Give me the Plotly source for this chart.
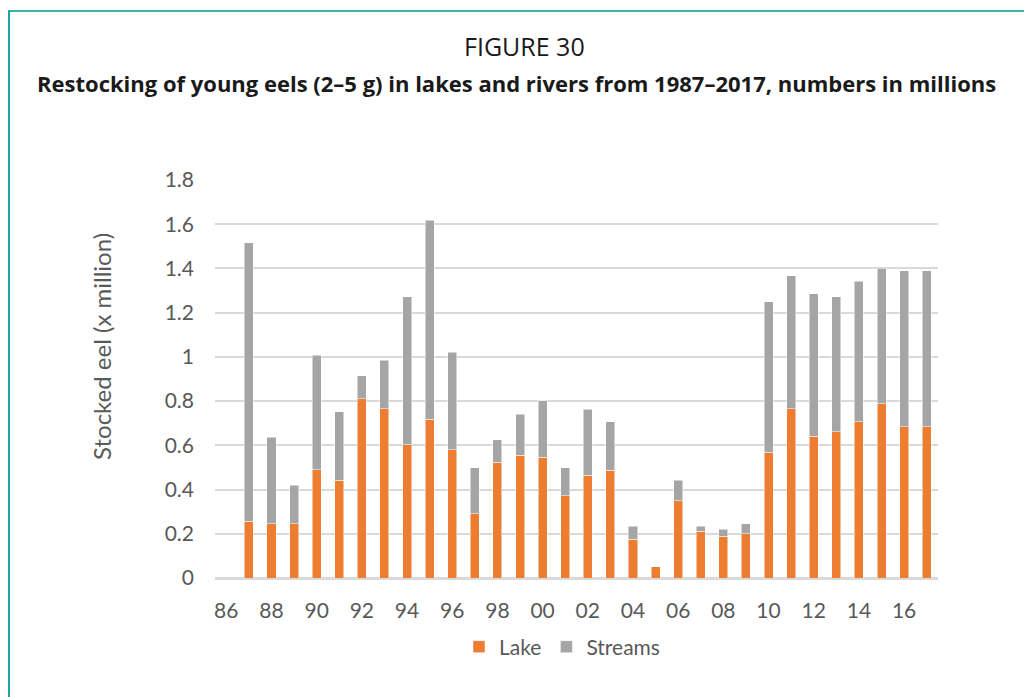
import plotly.graph_objects as go

years = ["86", "87", "88", "89", "90", "91", "92", "93", "94", "95", "96", "97", "98", "99",
         "00", "01", "02", "03", "04", "05", "06", "07", "08", "09", "10", "11", "12", "13",
         "14", "15", "16", "17"]
totals = [None, 1.517, 0.637, 0.419, 1.008, 0.753, 0.914, 0.985, 1.273, 1.619, 1.020, 0.498,
          0.625, 0.741, 0.801, 0.498, 0.764, 0.706, 0.233, 0.050, 0.441, 0.233, 0.221, 0.245,
          1.250, 1.366, 1.285, 1.273, 1.342, 1.401, 1.389, 1.389]
lake = [None, 0.256, 0.245, 0.245, 0.489, 0.441, 0.810, 0.765, 0.602, 0.718, 0.580, 0.291,
        0.523, 0.556, 0.545, 0.372, 0.464, 0.488, 0.176, 0.050, 0.349, 0.211, 0.188, 0.200,
        0.568, 0.765, 0.640, 0.661, 0.706, 0.788, 0.684, 0.684]
streams = [None if t is None else round(t - l, 3) for t, l in zip(totals, lake)]
tick_labels = years[::2]
y_ticks = [0, 0.2, 0.4, 0.6, 0.8, 1, 1.2, 1.4, 1.6, 1.8]
y_tick_text = ["0", "0.2", "0.4", "0.6", "0.8", "1", "1.2", "1.4", "1.6", "1.8"]

fig = go.Figure()
fig.add_trace(go.Bar(x=years, y=lake, name="Lake",
                     marker=dict(color="#ED7D31", line=dict(color="white", width=0.5))))
fig.add_trace(go.Bar(x=years, y=streams, name="Streams",
                     marker=dict(color="#A5A5A5", line=dict(color="white", width=0.5))))

# body margin is removed by post_script below, so page coords == figure coords
OFF = 0
# plot area in page (screenshot) coordinates
PL, PR, PT, PB = 215, 938, 180, 578
W, H = 1024 - OFF, 697 - OFF
L, T = PL - OFF, PT - OFF
R = W - (PR - OFF)
B = H - (PB - OFF)
pw, ph = PR - PL, PB - PT

def px(x):
    return (x - PL) / pw

def py(y):
    return (PB - y) / ph

fig.update_layout(
    width=W, height=H,
    margin=dict(l=L, r=R, t=T, b=B, pad=0),
    paper_bgcolor="white", plot_bgcolor="white",
    barmode="stack", bargap=0.6,
    font=dict(family="Lato", size=21, color="#595959"),
    showlegend=True,
    legend=dict(orientation="h", x=px(562), y=py(647), xanchor="center", yanchor="middle",
                font=dict(family="Lato", size=21, color="#595959"),
                itemwidth=30, traceorder="normal", bgcolor="rgba(0,0,0,0)"),
    xaxis=dict(type="category", categoryorder="array", categoryarray=years,
               tickmode="array", tickvals=tick_labels, ticktext=tick_labels,
               showgrid=False, showline=True, linecolor="#d9d9d9", linewidth=1.5,
               ticks="", ticklabelstandoff=13, tickfont=dict(size=21, color="#595959"),
               fixedrange=True),
    yaxis=dict(range=[0, 1.8], tickmode="array", tickvals=y_ticks, ticktext=y_tick_text,
               showgrid=True, gridcolor="#d9d9d9", gridwidth=1.5,
               zeroline=True, zerolinecolor="#d9d9d9", zerolinewidth=1.5,
               showline=False, ticks="", ticklabelstandoff=20,
               tickfont=dict(size=21, color="#595959"), fixedrange=True),
    annotations=[
        dict(text="FIGURE 30", x=px(524), y=py(46), xref="paper", yref="paper",
             showarrow=False, xanchor="center", yanchor="middle",
             font=dict(family="Open Sans", size=25, color="#1a1a1a")),
        dict(text="<b>Restocking of young eels (2–5 g) in lakes and rivers from 1987–2017, numbers in millions</b>",
             x=px(516), y=py(83), xref="paper", yref="paper",
             showarrow=False, xanchor="center", yanchor="middle",
             font=dict(family="Open Sans", size=22, color="#1a1a1a")),
        dict(text="Stocked eel (x million)", x=px(101), y=py(347), xref="paper", yref="paper",
             showarrow=False, xanchor="center", yanchor="middle", textangle=-90,
             font=dict(family="Lato", size=24, color="#595959")),
    ],
    shapes=[
        dict(type="line", xref="paper", yref="paper", x0=px(8), x1=px(1024), y0=py(11), y1=py(11),
             line=dict(color="#3FB0A5", width=2)),
        dict(type="line", xref="paper", yref="paper", x0=px(9), x1=px(9), y0=py(11), y1=py(697),
             line=dict(color="#1FA4A0", width=2)),
    ],
)

fig.write_html(
    "out.html",
    config={"displayModeBar": False},
    post_script="document.body.style.margin='0';document.body.style.overflow='hidden';",
)
